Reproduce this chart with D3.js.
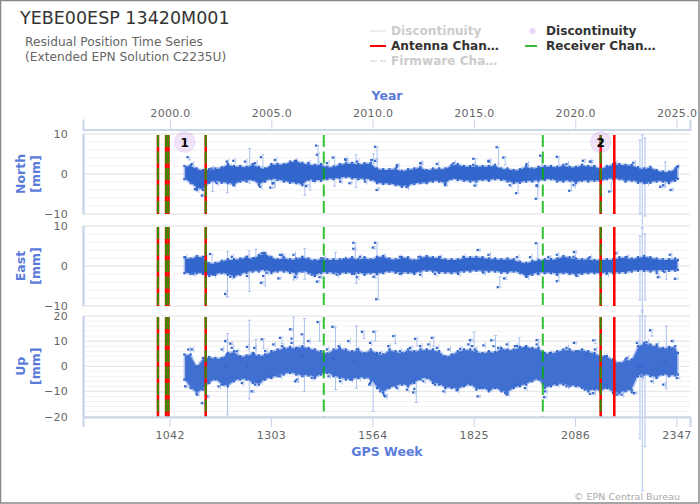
<!DOCTYPE html>
<html>
<head>
<meta charset="utf-8">
<script src="https://cdn.jsdelivr.net/npm/d3@7"></script>
<style>
  html, body { margin: 0; padding: 0; background: #fff; }
  text { font-family: "DejaVu Sans", sans-serif; }
</style>
</head>
<body>
<div id="chart"></div>
<script>
const weekTicks = [1042, 1303, 1564, 1825, 2086, 2347];
const yearTicks = [2000, 2005, 2010, 2015, 2020, 2025];

const antennaWeeks = [1012, 1033, 1039, 1135, 2152, 2187];
const receiverWeeks = [1012, 1033, 1039, 1135, 1439, 2003, 2152];
const discontinuityWeeks = [1081, 2152];

const cloudWeeks = [1080, 1096, 1112, 1128, 1144, 1160, 1176, 1192, 1208, 1224, 1240, 1256, 1272, 1288, 1304, 1320,
  1336, 1352, 1368, 1384, 1400, 1416, 1432, 1448, 1464, 1480, 1496, 1512, 1528, 1544, 1560, 1576,
  1592, 1608, 1624, 1640, 1656, 1672, 1688, 1704, 1720, 1736, 1752, 1768, 1784, 1800, 1816, 1832,
  1848, 1864, 1880, 1896, 1912, 1928, 1944, 1960, 1976, 1992, 2008, 2024, 2040, 2056, 2072, 2088,
  2104, 2120, 2136, 2152, 2168, 2184, 2200, 2216, 2232, 2248, 2264, 2280, 2296, 2312, 2328, 2344, 2351];

const northHigh = [2.0, 2.2, 1.4, 1, 1.2, 1.4, 1.7, 2.5, 2, 2, 1.8, 2.5, 1.8, 1.4, 2.5, 2.5,
  2.5, 3.1, 3.3, 2.8, 2.5, 2.3, 2.5, 1.8, 1.9, 2.5, 2.7, 2.8, 2.5, 2.7, 2.8, 1.4,
  1.2, 1.2, 1.4, 0.8, 1.2, 1.4, 1.8, 1, 1.4, 1.4, 1.4, 2.3, 2.5, 2, 2, 2,
  2, 2, 2.3, 1.4, 1.4, 1, 1.2, 2, 1.4, 1.8, 2, 2, 1.8, 2.3, 1.8, 1.8,
  2.3, 2, 2, 1.4, 2, 2.5, 2.5, 2.3, 2.3, 1.7, 1.4, 1.8, 1, 0.6, 0.6, 1.4, 1.9];
const northLow = [-1.3, -2.3, -3.6, -4, -2.2, -1.9, -2.2, -2.3, -2.8, -1.9, -1.9, -1.5, -2.8, -1.9, -1.3, -1.5,
  -1.9, -2.2, -2.3, -2.8, -1.5, -1.7, -1.7, -1.3, -1.3, -1.1, -0.8, -1.1, -1.3, -1.3, -1.5, -2.3,
  -2.5, -2.5, -2.8, -3.2, -3, -2.5, -2.3, -2.3, -1.9, -1.9, -2.5, -1.3, -1.5, -1.7, -1.9, -1.9,
  -1.5, -1.7, -1.3, -1.5, -1.9, -2.3, -2.2, -1.9, -1.9, -1.7, -1.5, -1.3, -1.9, -1.9, -1.7, -2.3,
  -1.7, -1.9, -1.7, -1.9, -1.3, -1.3, -1.3, -1.9, -1.7, -2.2, -2.3, -2.2, -1.9, -1.9, -2.3, -1.7, -1.2];

const eastHigh = [2.2, 1.9, 2.5, 2.3, 0.7, 0.8, 1.3, 1.7, 1.7, 1.9, 2.3, 1.9, 2.8, 3.2, 2.3, 1.7,
  2.2, 1.7, 1.9, 2.3, 1.9, 1.5, 1.9, 1.7, 1.7, 1.7, 1.9, 2.2, 1.7, 2.2, 1.7, 2.3,
  2.5, 1.9, 1.7, 2.2, 2.2, 1.5, 2.2, 2.5, 2.2, 2.2, 1.7, 1.7, 1.7, 2.2, 2.2, 2.3,
  2.2, 1.9, 1.9, 1.7, 1.9, 1.7, 1.1, 0.8, 1.3, 1.5, 1.7, 1.7, 1.9, 2.5, 2.2, 1.9,
  1.7, 1.9, 1.5, 1.7, 1.7, 1.7, 2.2, 2.2, 1.9, 2.2, 2.5, 2.2, 1.9, 1.7, 1.7, 1.9, 1.5];
const eastLow = [-1.8, -2, -1.8, -2, -2.5, -2.2, -1.8, -2.2, -2.8, -2.2, -1.7, -1.4, -1.4, -1, -1.8, -1.4,
  -1.4, -1.7, -2, -1.4, -1.8, -2.5, -1.8, -1.7, -1.8, -2, -1.7, -2, -1.7, -2.2, -1.8, -2,
  -1.8, -1.4, -1.7, -1.8, -1.7, -2, -1.4, -1.2, -1.4, -1.7, -1.7, -1.8, -1.7, -1.4, -1.4, -1.2,
  -1.4, -1.4, -1.4, -1.7, -1.7, -1.4, -1.8, -2.7, -2.2, -1.7, -1.8, -1.8, -2, -1.8, -2, -2.2,
  -2, -1.8, -1.8, -2, -1.7, -1.8, -1.7, -1.7, -1.4, -1.2, -1.2, -1.4, -1.2, -1.2, -1.2, -1.2, -1];

const upHigh = [4.7, 4.7, 0, 3.3, 3.7, 3.3, 3.3, 5.3, 6, 4, 4.3, 5.3, 4.3, 4.7, 6, 6.7,
  7.3, 7.7, 7.3, 8, 7.3, 6.7, 6, 5.1, 6.7, 7.3, 6.7, 6, 6.7, 5.3, 6.7, 5.3,
  4.7, 6.7, 6, 5.3, 6.7, 6, 6.7, 6.7, 6.7, 6, 4, 4.7, 6, 6.7, 6.7, 6,
  5.3, 6, 5.6, 7.3, 6.7, 6.7, 7.7, 8, 7.3, 7.3, 5.3, 5.3, 6, 6.7, 6.7, 6,
  6.7, 6, 5.3, 4.3, 4, 2.7, 1.3, 2.7, 2.7, 8, 9.3, 8.7, 8, 7.3, 7.7, 8, 5.3];
const upLow = [-5.3, -8.7, -10.9, -9.3, -6.7, -5.3, -7.3, -8, -6, -5.3, -5.3, -6.7, -7.3, -5.3, -4.7, -4,
  -3.3, -2.7, -3.3, -4, -3.7, -4.7, -3.3, -2.7, -4, -4.7, -5.3, -5.3, -4.7, -4.7, -5.3, -8.7,
  -10.7, -8.7, -8, -7.3, -8, -6.7, -5.3, -4.7, -6.7, -7.3, -8.7, -8.7, -9.3, -8, -7.3, -9.3,
  -8.7, -10, -8.7, -10, -10.7, -8.7, -8, -7.3, -6, -5.3, -8.7, -8, -7.3, -7.3, -8, -8,
  -8.7, -10, -9.3, -10, -8.7, -10.7, -10.7, -10, -9.6, -4, -3.3, -4, -4.7, -3.3, -4, -3.7, -3.3];

// separate points seen along the edge of the cloud: [week, value]
const northFringe = [
  [1099, 2.5], [1150, 1.4], [1189, 3.1], [1206, 3.3], [1236, 3.1], [1262, 2.7], [1313, 3.5], [1365, 3.3],
  [1399, 2.8], [1447, 2.7], [1494, 3.7], [1524, 3.1], [1562, 3.5], [1627, 1.8], [1687, 2.7],
  [1112, -4], [1163, -2.3], [1206, -2.8], [1275, -3.2], [1309, -2.3], [1412, -1.7], [1481, -1.9], [1545, -1.9], [1652, -3.3],
  [1730, 2.5], [1773, 2.7], [1824, 2.3], [1863, 3.1], [1961, 2.5], [2064, 2.5], [2124, 3.1], [2189, 2.7], [2236, 2.8], [2348, 1.8],
  [1918, -2.8], [1987, -2.8], [2082, -2.8], [2270, -2.2], [2313, -2.8]
];
const eastFringe = [
  [1082, 2.2], [1133, 2.3], [1202, 2.3], [1241, 2.3], [1279, 3.2], [1326, 2.8], [1361, 2.8], [1438, 1.9],
  [1490, 1.7], [1532, 2.3], [1592, 2.5], [1635, 2.3], [1683, 2.3],
  [1103, -2], [1155, -2.2], [1198, -2.7], [1241, -2.5], [1292, -1.7], [1365, -2.7], [1408, -2.2], [1472, -2.2], [1524, -2.8], [1635, -2], [1687, -2.2],
  [1738, 2.3], [1798, 2.3], [1863, 2.8], [1936, 2.2], [1970, 2.2], [2039, 2.8], [2082, 2.3], [2124, 2.2], [2219, 2.3], [2330, 2.8],
  [1725, -2], [1785, -2], [1850, -1.7], [1961, -2.7], [2039, -2.2], [2167, -2], [2296, -1.8]
];
const upFringe = [
  [1090, 6.7], [1099, 6.7], [1176, 6.7], [1189, 4.7], [1202, 7.3], [1215, 6], [1241, 7.7], [1260, 7.3], [1288, 6],
  [1309, 8.7], [1331, 8], [1356, 9.3], [1371, 7.3], [1399, 10], [1412, 6], [1447, 6.7], [1477, 8], [1502, 10],
  [1524, 6.7], [1558, 9.3], [1584, 5.3], [1605, 8], [1635, 6], [1661, 7.3], [1687, 8], [1708, 8.7],
  [1086, -5.3], [1168, -8], [1181, -7.3], [1202, -4], [1228, -6.7], [1262, -7.3], [1275, -6], [1301, -4], [1326, -4],
  [1369, -5.3], [1408, -4.7], [1451, -4], [1481, -6], [1507, -5.3], [1528, -4.7], [1558, -6.7], [1584, -10], [1597, -12],
  [1627, -8.7], [1653, -9.3], [1670, -5.3], [1695, -6],
  [1730, 7.3], [1760, 6.7], [1790, 6.9], [1811, 8.7], [1828, 6.7], [1850, 8.3], [1888, 7.3], [1910, 8.7], [1931, 8],
  [1957, 7.3], [1987, 8.7], [2021, 5.3], [2064, 7.3], [2094, 6], [2116, 4.7], [2137, 6.7], [2163, 4], [2219, 3.3],
  [2245, 9.3], [2270, 9.6], [2296, 8.7],
  [1725, -7.3], [1747, -10], [1781, -9.6], [1803, -7.3], [1841, -8.7], [1867, -9.3], [1906, -10.7], [1931, -7.3],
  [1957, -8.7], [2009, -10], [2039, -7.3], [2064, -8], [2111, -9.3], [2133, -10.7], [2167, -7.3], [2206, -11.3],
  [2232, -10.4], [2257, -4], [2283, -6], [2313, -7.3]
];

// [week, value, error low, error high]
const northOutliers = [
  [1088, 4.2, 3.5, 4.2], [1243, 1.5, -2.3, 6.4], [1277, 4.2, 1.8, 4.9], [1186, 0, -4.7, 3.3],
  [1148, -0.5, -4.4, 0.2], [1107, -3.8, -4.2, -3.4], [1125, -5.4, -5.6, -5], [1301, -3.4, -3.6, -2],
  [1307, -2.3, -3.4, -1.5], [1385, -1, -5.3, 1], [1399, -1, -4, 0.2], [1393, -3, -3.2, -2.6],
  [1419, 7.1, 2.5, 7.1], [1421, 4.8, 3, 5.2], [1462, 4.1, -3, 4.3], [1517, 0.5, -3.3, 4.8],
  [1495, 3.5, 3.2, 3.8], [1571, 6.8, 3, 6.8], [1571, 3.3, 1.5, 3.8], [1575, -4, -4.1, -3.5],
  [1562, 3.5, 2.7, 5], [1627, 2.2, 2, 2.5], [1505, -2.3, -2.5, -2], [1688, 2.7, 2.4, 3],
  [1884, 6.7, 2.5, 6.7], [1901, 4.1, 2.3, 4.3], [1824, 3.8, -2.5, 3.8], [1863, 3.3, 3, 3.5],
  [1827, -2.9, -3.1, -2.6], [1751, -2.8, -3, -2.5], [1934, -4.8, -4.8, -1.5], [1985, -6.2, -6.2, -1.5],
  [1987, -3, -3.2, -1], [1996, 4.6, 2, 4.6], [2039, 4.3, 2, 4.3], [2071, -4.2, -4.2, -2],
  [2106, 3.3, 3, 3.6], [2126, 3.1, 2.8, 3.4], [2174, -4.4, -4.4, -2],
  [2248, -0.3, -10, 8.5], [2254, -0.5, -13.5, 9.8], [2261, -0.2, -10.5, 9],
  [2313, 0.5, -3.2, 3], [2305, -3.2, -3.4, -2.9], [2332, -4, -4.2, -3.6]
];
const eastOutliers = [
  [1146, 3, 0, 3], [1186, -1, -7.7, 3.6], [1185, -7, -7.7, -6.2], [1242, 0, -6.4, 3.8],
  [1259, 2, 0, 4.2], [1283, 3.2, 3, 3.5], [1277, -4.2, -4.4, -3.9], [1283, -2.5, -5, -1.4],
  [1322, -3.1, -3.3, -2.8], [1385, 1, -3.3, 4.4], [1421, -3.9, -4.1, -3.6], [1428, -2.8, -3, -2.5],
  [1464, 0.5, -1.4, 3.4], [1515, 5.8, 1.5, 5.8], [1515, 4.3, 4, 4.5], [1518, -2, -4.3, 0],
  [1571, 5.8, 1.5, 5.8], [1565, 4.6, 4.3, 4.9], [1567, -2.7, -3, -2.4], [1574, -8.3, -8.4, -1.8],
  [1365, -2.8, -3, -2.5], [1331, 2.7, 2.5, 3], [1356, -1, -3.5, 0],
  [1835, 4, 3.8, 4.2], [1887, -5.3, -5.3, -2.7], [1903, -3.1, -3.4, -2.8], [1985, 5.7, 2, 5.7],
  [1990, -2, -2.3, -1.7], [2017, 2.2, 2, 2.5], [2039, -3.8, -3.8, -1.8], [2083, 3.5, 3.2, 3.7],
  [2090, -2.5, -2.7, -2.3], [2190, 3.2, 3, 3.5],
  [2248, 0, -8.5, 7.5], [2254, 0, -11.5, 9.5], [2261, 0, -8.5, 8],
  [2299, -2.8, -3, -2.5], [2316, -1.5, -3.3, 0.6], [2343, -3.2, -3.4, -3]
];
const upOutliers = [
  [1186, 0, -19.3, 13], [1185, 10, 9.5, 10.5], [1242, 0, -13, 18.3], [1259, 5, 1, 10.7],
  [1125, -14.7, -15, -14.3], [1137, -12, -12.4, -11.6], [1198, 9, 8.6, 9.4], [1279, 10.7, 7, 11],
  [1356, 11, 6.7, 19.6], [1352, 14.7, 14.3, 15], [1384, 4, -10, 19], [1423, 17.6, 10, 17.7],
  [1365, -6, -6.4, -5.6], [1382, 12.7, 9, 13], [1464, 3, -9.3, 15.3], [1461, 15.7, 15.3, 16],
  [1518, 2, -8.7, 16], [1537, 13.7, 11, 14], [1567, 13.7, 10, 14], [1561, -6, -18, -1.3],
  [1556, -7.3, -7.7, -7], [1594, -11.6, -12, -11.2], [1672, -9, -14.4, -4.7], [1669, -10.4, -10.8, -10],
  [1674, 10.9, 8, 11.2], [1618, 12, 9, 12.4], [1326, 11.3, 9, 11.6], [1253, -10, -10.4, -9.6],
  [1082, -8, -8.4, -7.6], [1112, -11.3, -11.7, -11],
  [1717, 11.3, 8, 11.6], [1821, 8, 5, 13.6], [1815, 10.4, 10, 10.8], [1870, 10.3, 10, 10.6],
  [1876, 8, 5.3, 12.3], [1937, 8, 4, 11.3], [1835, -12, -12.3, -11.7], [1910, -11.3, -11.6, -11],
  [1987, 10.4, 8, 10.7], [2006, -12.3, -12.6, -12], [2133, 10.3, 9, 10.6], [2083, 9.3, 8.9, 9.6],
  [2124, -11, -11.3, -10.6], [2193, -11.3, -11.6, -11], [2238, -10.7, -11, -10.4], [2279, 14.3, 12, 14.6],
  [2248, 0, -28.8, 20], [2254, 0, -49.6, 22.4], [2261, 0, -32, 20],
  [2316, 2, -9, 16], [2335, 10, 9.6, 10.4], [2348, -4.7, -5, -4.4]
];

const blue = "#3366cc";
const errorBlue = "#adc2ee";
const titleBlue = "#5b7bdb";
const axisColor = "#ccd6eb";
const width = 700;
const height = 504;

const svg = d3.select("#chart").append("svg")
  .attr("width", width)
  .attr("height", height)
  .style("display", "block");

svg.append("rect")
  .attr("x", 0.5).attr("y", 0.5)
  .attr("width", width - 1.5).attr("height", height - 1.5)
  .attr("fill", "#fff").attr("stroke", "#888").attr("stroke-width", 1.5);

const x = d3.scaleLinear().domain([819, 2382]).range([83, 690]);
// 2000.0 is GPS week 1043, 52.1775 weeks a year
const yearScale = d3.scaleLinear()
  .domain([2000 + (819 - 1043) / 52.1775, 2000 + (2382 - 1043) / 52.1775])
  .range([83, 690]);

const panels = [
  { name: "North", low: northLow, high: northHigh, fringe: northFringe, outliers: northOutliers, domain: [-10, 10], top: 134, bottom: 214, ticks: [-10, 0, 10], minor: d3.range(-10, 11, 2), fill: blue },
  { name: "East", low: eastLow, high: eastHigh, fringe: eastFringe, outliers: eastOutliers, domain: [-10, 10], top: 226, bottom: 306, ticks: [-10, 0, 10], minor: d3.range(-10, 11, 2), fill: blue },
  { name: "Up", low: upLow, high: upHigh, fringe: upFringe, outliers: upOutliers, domain: [-20, 20], top: 316, bottom: 416.5, ticks: [-20, -10, 0, 10, 20], minor: d3.range(-20, 21, 2), fill: "#3f6fd0" }
];

panels.forEach(p => {
  const y = d3.scaleLinear().domain(p.domain).range([p.bottom, p.top]);
  p.y = y;
  const g = svg.append("g");

  g.selectAll(".minor").data(p.minor).enter().append("line")
    .attr("x1", 83).attr("x2", 690)
    .attr("y1", d => y(d)).attr("y2", d => y(d))
    .attr("stroke", "#f2f2f2");
  g.selectAll(".major").data(p.ticks).enter().append("line")
    .attr("x1", 83).attr("x2", 690)
    .attr("y1", d => y(d)).attr("y2", d => y(d))
    .attr("stroke", "#e6e6e6");

  g.append("line")
    .attr("x1", 83.5).attr("x2", 83.5)
    .attr("y1", p.top).attr("y2", p.bottom)
    .attr("stroke", axisColor).attr("stroke-width", 2.5);

  const axis = g.append("g")
    .attr("transform", "translate(70,0)")
    .call(d3.axisLeft(y).tickValues(p.ticks).tickSize(0).tickPadding(2));
  axis.select(".domain").remove();
  axis.selectAll("text")
    .attr("fill", "#666").style("font-size", "11px").style("letter-spacing", "0.3px")
    .style("font-family", "'DejaVu Sans'");

  const title = g.append("text")
    .attr("transform", `translate(21,${y(0)}) rotate(-90)`)
    .attr("text-anchor", "middle")
    .attr("fill", titleBlue)
    .style("font-size", "12.5px").style("font-weight", "bold");
  title.append("tspan").attr("x", 0).attr("y", 4).text(p.name);
  title.append("tspan").attr("x", 0).attr("y", 19).text("[mm]");

  const rows = cloudWeeks.map((w, i) => ({ w, lo: p.low[i], hi: p.high[i] }));

  // error bars sit about 2px right of their point
  const bars = g.append("g").attr("transform", "translate(2,0)")
    .attr("stroke", errorBlue).attr("fill", "none");
  bars.selectAll("line.bar").data(p.outliers).enter().append("line")
    .attr("class", "bar")
    .attr("x1", d => x(d[0])).attr("x2", d => x(d[0]))
    .attr("y1", d => y(d[2])).attr("y2", d => y(d[3]));
  bars.selectAll("path.cap").data(p.outliers).enter().append("path")
    .attr("class", "cap")
    .attr("d", d => `M${x(d[0]) - 1.5},${y(d[2])}h3M${x(d[0]) - 1.5},${y(d[3])}h3`);
  bars.selectAll("line.halo").data(p.fringe).enter().append("line")
    .attr("class", "halo")
    .attr("x1", d => x(d[0])).attr("x2", d => x(d[0]))
    .attr("y1", d => y(d[1]) - 3).attr("y2", d => y(d[1]) + 3);

  const area = d3.area().x(d => x(d.w)).y0(d => y(d.lo)).y1(d => y(d.hi));
  g.append("path").datum(rows).attr("d", area)
    .attr("fill", p.fill)
    .attr("stroke", errorBlue).attr("stroke-width", 1.5).attr("stroke-linejoin", "round");

  g.selectAll("rect.edge").data(rows.flatMap(d => [[d.w, d.lo], [d.w, d.hi]])).enter().append("rect")
    .attr("class", "edge")
    .attr("x", d => x(d[0]) - 1.1).attr("y", d => y(d[1]) - 1.1)
    .attr("width", 2.2).attr("height", 2.2)
    .attr("fill", blue);
  g.selectAll("rect.fringe").data(p.fringe).enter().append("rect")
    .attr("class", "fringe")
    .attr("x", d => x(d[0]) - 1.1).attr("y", d => y(d[1]) - 1.1)
    .attr("width", 2.2).attr("height", 2.2)
    .attr("fill", blue);
  g.selectAll("rect.outlier").data(p.outliers).enter().append("rect")
    .attr("class", "outlier")
    .attr("x", d => x(d[0]) - 1.1).attr("y", d => y(d[1]) - 1.1)
    .attr("width", 2.2).attr("height", 2.2)
    .attr("fill", blue);

  g.selectAll("line.antenna").data(antennaWeeks).enter().append("line")
    .attr("class", "antenna")
    .attr("x1", d => x(d)).attr("x2", d => x(d))
    .attr("y1", p.top + 1).attr("y2", p.bottom)
    .attr("stroke", "#ff0000").attr("stroke-width", 2.6);
  g.selectAll("line.receiver").data(receiverWeeks).enter().append("line")
    .attr("class", "receiver")
    .attr("x1", d => x(d)).attr("x2", d => x(d))
    .attr("y1", p.top + 1).attr("y2", p.bottom)
    .attr("stroke", "#00b000").attr("stroke-opacity", 0.8)
    .attr("stroke-width", 2).attr("stroke-dasharray", "12,4.5");
});

// top and bottom axes
const topAxis = svg.append("g")
  .attr("transform", "translate(0,129.5)")
  .call(d3.axisTop(yearScale).tickValues(yearTicks).tickFormat(d3.format(".1f")).tickSize(10).tickPadding(3));
const bottomAxis = svg.append("g")
  .attr("transform", "translate(0,417)")
  .call(d3.axisBottom(x).tickValues(weekTicks).tickFormat(d3.format("d")).tickSize(10).tickPadding(4));
[topAxis, bottomAxis].forEach(a => {
  a.select(".domain").attr("stroke", axisColor).attr("stroke-width", 2);
  a.selectAll(".tick line").attr("stroke", axisColor);
  a.selectAll("text").attr("fill", "#666").style("font-size", "11px").style("letter-spacing", "0.3px")
    .style("font-family", "'DejaVu Sans'");
});

svg.append("text").attr("x", 387).attr("y", 100).attr("text-anchor", "middle")
  .attr("fill", titleBlue).style("font-size", "12.5px").style("font-weight", "bold").text("Year");
svg.append("text").attr("x", 387).attr("y", 456).attr("text-anchor", "middle")
  .attr("fill", titleBlue).style("font-size", "12.5px").style("font-weight", "bold").text("GPS Week");

// discontinuity bubbles
const north = panels[0];
const bubbles = svg.selectAll(".bubble").data(discontinuityWeeks).enter().append("g");
bubbles.append("circle")
  .attr("cx", d => x(d)).attr("cy", north.y(8)).attr("r", 10.5)
  .attr("fill", "#a855e0").attr("fill-opacity", 0.16)
  .attr("stroke", "#a855e0").attr("stroke-opacity", 0.1);
bubbles.append("text")
  .attr("x", d => x(d)).attr("y", north.y(8) + 4.5).attr("text-anchor", "middle")
  .attr("fill", "#000").style("font-size", "12px").style("font-weight", "bold")
  .text((d, i) => i + 1);

// titles
svg.append("text").attr("x", 20).attr("y", 24)
  .attr("fill", "#333").style("font-size", "17.5px").text("YEBE00ESP 13420M001");
svg.append("text").attr("x", 25).attr("y", 46)
  .attr("fill", "#666").style("font-size", "12.2px").text("Residual Position Time Series");
svg.append("text").attr("x", 25).attr("y", 61)
  .attr("fill", "#666").style("font-size", "12.2px").text("(Extended EPN Solution C2235U)");

// legend
const legend = svg.append("g").style("font-size", "12.1px").style("font-weight", "bold");
const legendItems = [
  { label: "Discontinuity", tx: 391, ty: 35, color: "#ccc" },
  { label: "Antenna Chan…", tx: 391, ty: 50, color: "#333" },
  { label: "Firmware Cha…", tx: 391, ty: 65, color: "#ccc" },
  { label: "Discontinuity", tx: 546, ty: 35, color: "#333" },
  { label: "Receiver Chan…", tx: 546, ty: 50, color: "#333" }
];
legend.selectAll("text").data(legendItems).enter().append("text")
  .attr("x", d => d.tx).attr("y", d => d.ty).attr("fill", d => d.color).text(d => d.label);
legend.append("line").attr("x1", 370).attr("x2", 386).attr("y1", 31).attr("y2", 31)
  .attr("stroke", "#eee").attr("stroke-width", 2);
legend.append("line").attr("x1", 370).attr("x2", 386).attr("y1", 46).attr("y2", 46)
  .attr("stroke", "#ff0000").attr("stroke-width", 2);
legend.append("line").attr("x1", 370).attr("x2", 386).attr("y1", 61).attr("y2", 61)
  .attr("stroke", "#e6e6e6").attr("stroke-width", 2).attr("stroke-dasharray", "7,3");
legend.append("circle").attr("cx", 532.5).attr("cy", 31).attr("r", 3)
  .attr("fill", "#e9d5f8");
legend.append("line").attr("x1", 525).attr("x2", 537).attr("y1", 46).attr("y2", 46)
  .attr("stroke", "#3cb93c").attr("stroke-width", 2);

svg.append("text").attr("x", 680).attr("y", 499.5).attr("text-anchor", "end")
  .attr("fill", "#aaa").style("font-size", "9.5px").text("© EPN Central Bureau");
</script>
</body>
</html>
